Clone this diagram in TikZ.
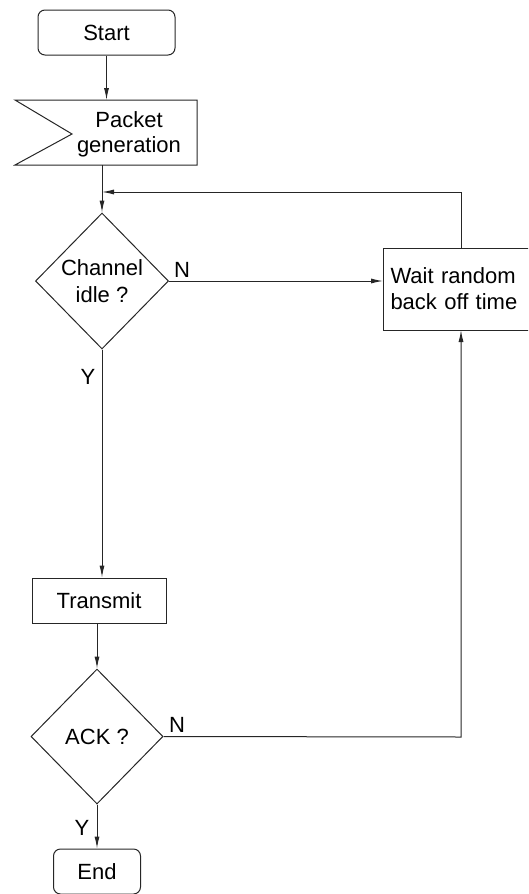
\documentclass[tikz,border=0pt]{standalone}
\usepackage{fontspec}
\setmainfont{Liberation Sans}
\usetikzlibrary{arrows.meta,shapes.geometric}
\begin{document}
\begin{tikzpicture}[x=1pt,y=-1pt,
  every node/.style={font=\fontsize{22}{26}\selectfont, inner sep=0pt},
  line/.style={line width=1pt, draw=black!85},
  arr/.style={line, -{Latex[length=12pt,width=5pt]}},
  term/.style={draw=black!85, line width=1pt, rounded corners=7pt, minimum width=#1, minimum height=45pt},
  procbox/.style={draw=black!85, line width=1pt, minimum width=134pt, minimum height=45pt},
  decision/.style={draw=black!85, line width=1pt, diamond, minimum width=133pt, minimum height=136pt, align=center},
  lbl/.style={font=\fontsize{22}{26}\selectfont}
]
\useasboundingbox (0,0) rectangle (528,894);
\path[clip] (0,0) rectangle (528,894);

% Start
\node[term=137pt] (start) at (106.5,32.5) {Start};

% Packet generation
\draw[line] (15,100) -- (197,100) -- (197,165) -- (15,165) -- (72,134) -- cycle;
\node[align=center, font=\fontsize{22}{25}\selectfont] (pkt) at (129,134) {Packet\\generation};
\coordinate (pkttop) at (106.5,100);
\coordinate (pktbot) at (102,165);

% Channel idle ?
\node[decision] (chan) at (102,281) {Channel\\[1pt]idle ?};

% Wait random back off time
\node[draw=black!85, line width=1pt, anchor=west, minimum height=82pt, minimum width=200pt,
      align=left, text width=186pt, font=\fontsize{22}{26}\selectfont] (wait) at (383,289)
      {Wait random\\back off time};
\coordinate (waittop) at (461,248);
\coordinate (waitbot) at (461,330);
\coordinate (merge) at (102,192);
\coordinate (mergeR) at (461,192);

% Transmit
\node[procbox] (tx) at (99,600.5) {Transmit};

% ACK ?
\node[decision, minimum width=132pt, minimum height=135pt] (ack) at (97,736.5) {ACK ?};
\coordinate (ackR) at (461,737);

% End
\node[term=87pt] (end) at (97,871.5) {End};

% connectors
\draw[arr] (start.south) -- (pkttop);
\draw[arr] (pktbot) -- (chan.north);
\draw[arr] (waittop) -- (mergeR) -- (merge);
\draw[arr] (chan.east) -- (wait.west |- chan.east);
\draw[arr] (chan.south) -- (chan.south |- tx.north);
\draw[arr] (tx.south -| ack.north) -- (ack.north);
\draw[arr] (ack.east) -- (ackR) -- (waitbot);
\draw[arr] (ack.south) -- (end.north);

% labels
\node[lbl] (n1) at (182,270) {N};
\node[lbl] (y1) at (88,377) {Y};
\node[lbl] (n2) at (177,725) {N};
\node[lbl] (y2) at (82,828) {Y};
\end{tikzpicture}
\end{document}
